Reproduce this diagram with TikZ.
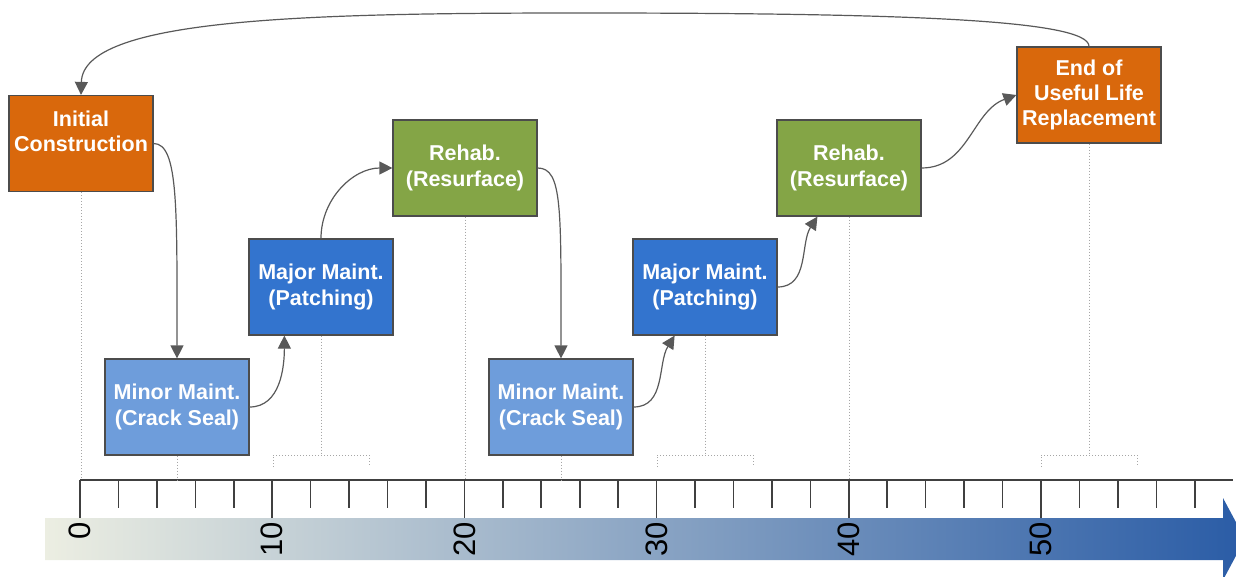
\documentclass[tikz,border=0pt]{standalone}
\usepackage{fontspec}
\setmainfont{Liberation Sans}
\usepackage{tikz}
\usetikzlibrary{arrows.meta,calc}
\definecolor{buildorange}{HTML}{D9680C}
\definecolor{rehabgreen}{HTML}{84A546}
\definecolor{majorblue}{HTML}{3374CE}
\definecolor{minorblue}{HTML}{6E9DDB}
\definecolor{flowgray}{HTML}{595959}
\definecolor{guidegray}{HTML}{A6A6A6}
\definecolor{barleft}{HTML}{ECEEE2}
\definecolor{barmid}{HTML}{9DB5CF}
\definecolor{barright}{HTML}{2A5CA6}

\begin{document}
\begin{tikzpicture}[x=0.5pt,y=0.5pt,>={Triangle[length=6.5pt,width=6.5pt]},
  stage/.style={draw=black!70, line width=0.6pt, minimum width=72pt, minimum height=48pt,
    inner sep=1pt, align=center, text=white, font=\bfseries\fontsize{10.75}{12.6}\selectfont},
  flow/.style={draw=flowgray, line width=0.6pt, ->},
  guide/.style={draw=guidegray, line width=0.5pt, densely dotted},
  axisline/.style={draw=black!75, line width=0.8pt},
  yearlabel/.style={rotate=90, anchor=east, inner sep=0pt, font=\fontsize{15.5}{18}\selectfont}]
\useasboundingbox (0,0) rectangle (1236,-577);

\shade[left color=barleft, middle color=barmid, right color=barright]
  (45,-518) -- (1223,-518) -- (1223,-498) -- (1245,-539) -- (1223,-580) -- (1223,-560) -- (45,-560) -- cycle;

\coordinate (base) at (0,-480);
\coordinate (brk) at (0,-455);
\draw[axisline] (80,-480) -- (1233,-480);
\foreach \t in {0,2,...,58}
  \draw[axisline] ({80+19.22*\t},-480) -- ({80+19.22*\t},-508);
\foreach \t in {0,10,...,50} {
  \draw[axisline] ({80+19.22*\t},-480) -- ({80+19.22*\t},-518);
  \node[yearlabel] at ({80+19.22*\t},-522) {\t};
}

\node[stage, fill=buildorange] (init) at (81,-143.5) {Initial\\Construction\\\mbox{}};
\node[stage, fill=minorblue] (minorA) at (177,-407) {Minor Maint.\\(Crack Seal)};
\node[stage, fill=majorblue] (majorA) at (321,-287) {Major Maint.\\(Patching)};
\node[stage, fill=rehabgreen] (rehabA) at (465,-168) {Rehab.\\(Resurface)};
\node[stage, fill=minorblue] (minorB) at (561,-407) {Minor Maint.\\(Crack Seal)};
\node[stage, fill=majorblue] (majorB) at (705,-287) {Major Maint.\\(Patching)};
\node[stage, fill=rehabgreen] (rehabB) at (849,-168) {Rehab.\\(Resurface)};
\node[stage, fill=buildorange] (eol) at (1089,-95) {End of\\Useful Life\\Replacement};

\draw[guide] (init.south) -- (init.south |- base);
\draw[guide] (minorA.south) -- (minorA.south |- base);
\draw[guide] (rehabA.south) -- (rehabA.south |- base);
\draw[guide] (minorB.south) -- (minorB.south |- base);
\draw[guide] (rehabB.south) -- (rehabB.south |- base);
\foreach \n in {majorA,majorB,eol} {
  \draw[guide] (\n.south) -- (\n.south |- brk);
  \draw[guide] ($(\n.south |- brk)+(-48,-12)$) -- ++(0,12) -- ++(96,0) -- ++(0,-12);
}

\draw[flow] (init.east) .. controls +(25,0) and +(0,150) .. (minorA.north);
\draw[flow] (minorA.east) to[out=0,in=-90] (majorA.233);
\draw[flow] (majorA.north) to[out=90,in=180] (rehabA.west);
\draw[flow] (rehabA.east) .. controls +(25,0) and +(0,150) .. (minorB.north);
\draw[flow] (minorB.east) to[out=0,in=238] (majorB.238);
\draw[flow] (majorB.east) to[out=0,in=237] (rehabB.237);
\draw[flow] (rehabB.east) to[out=0,in=200] (eol.west);
\coordinate (arctop) at (580,-13);
\draw[flow] (eol.north) .. controls +(0,27) and (900,-13) .. (arctop)
  .. controls (300,-13) and +(2,76) .. (init.north);
\end{tikzpicture}
\end{document}
